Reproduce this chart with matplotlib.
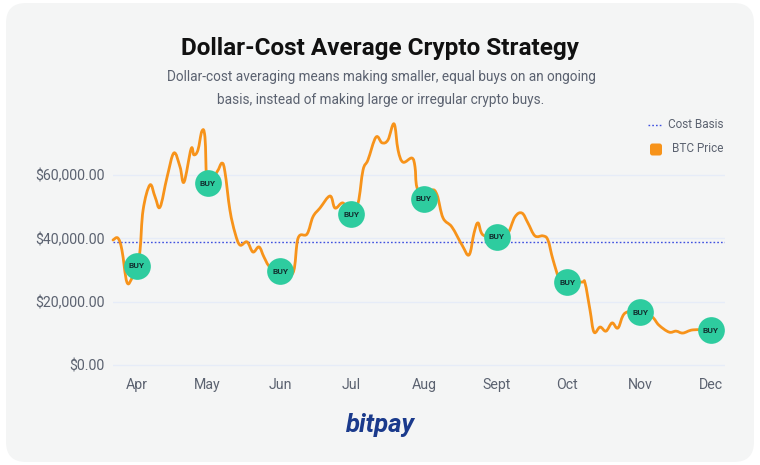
import numpy as np
import matplotlib.pyplot as plt
import matplotlib as mpl
from matplotlib.path import Path
from matplotlib.patches import PathPatch, FancyBboxPatch
from matplotlib.lines import Line2D

mpl.rcParams['font.family'] = ['Roboto', 'DejaVu Sans']

# days counted from Apr 1, BTC price in USD
days = [-10.2, -8.1, -6.4, -4.3, -2.1, 0, 1.3, 2.6, 5.5, 7.7, 9.8, 12.8, 15.7, 18.3, 20.0,
        23.0, 24.2, 25.9, 27.6, 28.9, 30, 34.0, 36.1, 37.4, 39.5, 41.7, 43.8, 46.8, 49.3,
        51.9, 54.0, 56.5, 61, 66.3, 68.5, 72.3, 74.8, 77.8, 82.1, 84.2, 87.6, 91, 94.0,
        96.1, 98.2, 101.6, 104.2, 106.7, 109.3, 111.0, 113.1, 116.9, 118.2, 119.0, 122,
        125.4, 127.6, 130.1, 133.9, 138.2, 141.2, 143.3, 145.0, 147.1, 153, 157.3, 160.7,
        163.7, 166.2, 169.2, 172.6, 174.7, 176.9, 179.8, 183, 189.2, 190.5, 192.6, 194.3,
        196.9, 199.4, 202.0, 204.5, 207.5, 214, 219.0, 221.9, 226.2, 229.2, 232.1, 236.4, 244]
price = [39500, 40100, 36300, 26200, 27500, 31300, 36300, 49000, 56900, 53100, 49900, 59400,
         67000, 62600, 57800, 68300, 66400, 67900, 73900, 72000, 57500, 61000, 63800, 61000,
         49000, 41700, 37900, 38900, 35700, 37300, 34100, 31000, 29700, 29100, 40100, 41400,
         46800, 49600, 53400, 49600, 51200, 47700, 51200, 61600, 64800, 72000, 70200, 71100,
         76200, 67900, 64100, 65400, 62600, 56200, 52500, 55300, 53700, 46500, 43600, 37900,
         34800, 41700, 44900, 41100, 40500, 41100, 46800, 48000, 44900, 40800, 40800, 39500,
         33200, 26900, 26200, 26200, 25900, 17400, 10400, 12000, 10700, 13300, 11700, 16400,
         16700, 15200, 12600, 10400, 10700, 10100, 11100, 11000]

months = ['Apr', 'May', 'Jun', 'Jul', 'Aug', 'Sept', 'Oct', 'Nov', 'Dec']
month_days = [0, 30, 61, 91, 122, 153, 183, 214, 244]
buy_price = [31300, 57500, 29700, 47700, 52500, 40500, 26200, 16700, 11000]
cost_basis = 38800
yticks = [0, 20000, 40000, 60000]

orange = '#f7931a'
teal = '#2ecc9f'
blue = '#3f51e0'
grey = '#5b6270'

fig = plt.figure(figsize=(7.6, 4.65), dpi=100)
fig.patch.set_facecolor('white')
card = FancyBboxPatch((0.06, 0.03), 7.48, 4.59, boxstyle='round,pad=0,rounding_size=0.2',
                      transform=fig.dpi_scale_trans, facecolor='#f4f5f5', edgecolor='none',
                      zorder=-10)
fig.patches.append(card)

W, H = 760, 465
ax = fig.add_axes([113 / W, (H - 368) / H, (725 - 113) / W, (368 - 112) / H])
ax.set_facecolor('none')
ax.set_xlim(-10.2, 250)
ax.set_ylim(-950, 79950)
for s in ax.spines.values():
    s.set_visible(False)

for v in yticks:
    ax.axhline(v, color='#e6ecf8', lw=1, zorder=0)
ax.set_yticks(yticks)
ax.set_yticklabels(['${:,.2f}'.format(v) for v in yticks])
ax.set_xticks(month_days)
ax.set_xticklabels(months)
ax.tick_params(length=0, labelsize=10.2, labelcolor=grey)
ax.tick_params(axis='y', pad=6)
ax.tick_params(axis='x', pad=7)

ax.axhline(cost_basis, color=blue, lw=1, ls=(0, (1.2, 1.5)), zorder=1)

# smooth line through the points (cubic bezier segments)
pts = np.column_stack([days, price]).astype(float)
verts = [pts[0]]
codes = [Path.MOVETO]
n = len(pts)
t = 0.18
for i in range(n - 1):
    p0 = pts[max(i - 1, 0)]
    p1 = pts[i]
    p2 = pts[i + 1]
    p3 = pts[min(i + 2, n - 1)]
    c1 = p1 + (p2 - p0) * t
    c2 = p2 - (p3 - p1) * t
    verts += [c1, c2, p2]
    codes += [Path.CURVE4] * 3
ax.add_patch(PathPatch(Path(verts, codes), fill=False, edgecolor=orange, lw=2,
                       capstyle='round', joinstyle='round', zorder=2, clip_on=False))

ax.scatter(month_days, buy_price, s=370, color=teal, zorder=3, clip_on=False, linewidths=0)
for d, p in zip(month_days, buy_price):
    ax.text(d, p, 'BUY', ha='center', va='center', fontsize=6, fontweight='bold',
            color='#123030', zorder=4)

# legend
fig.add_artist(Line2D([648 / W, 661 / W], [(H - 125) / H] * 2, color=blue, lw=1,
                      ls=(0, (1.2, 1.5))))
fig.text(723 / W, (H - 125) / H, 'Cost Basis', ha='right', va='center', fontsize=8.5,
         color=grey)
fig.add_artist(FancyBboxPatch((6.50, 4.65 - 1.555), 0.12, 0.12,
                              boxstyle='round,pad=0,rounding_size=0.025',
                              transform=fig.dpi_scale_trans, facecolor=orange,
                              edgecolor='none', zorder=5))
fig.text(723 / W, (H - 149) / H, 'BTC Price', ha='right', va='center', fontsize=8.5,
         color=grey)

fig.text(380 / W, (H - 48) / H, 'Dollar-Cost Average Crypto Strategy', ha='center',
         va='center', fontsize=17.5, fontweight='bold', color='#111111')
fig.text(381 / W, (H - 77) / H, 'Dollar-cost averaging means making smaller, equal buys on an ongoing',
         ha='center', va='center', fontsize=9.8, color=grey)
fig.text(381 / W, (H - 100) / H, 'basis, instead of making large or irregular crypto buys.',
         ha='center', va='center', fontsize=9.8, color=grey)

fig.text(380 / W, (H - 425) / H, 'bitpay', ha='center', va='center', fontsize=18.5,
         fontweight='bold', style='italic', color='#1a3a8c')

fig.savefig('out.png', dpi=100, facecolor='white')
